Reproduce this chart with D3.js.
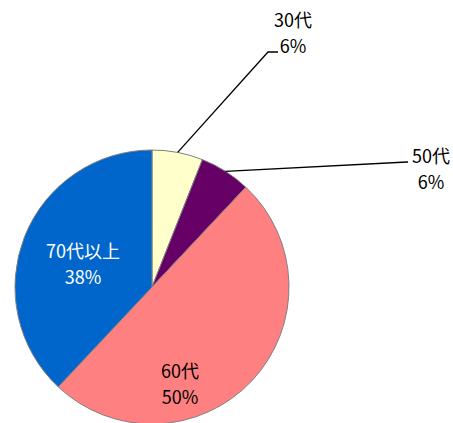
<!DOCTYPE html>
<html>
<head>
<meta charset="utf-8">
<script src="https://cdn.jsdelivr.net/npm/d3@7"></script>
<style>
  body { margin: 0; background: #fff; }
  text { font-family: "Noto Sans CJK JP", "Noto Sans", sans-serif; font-size: 18px; }
</style>
</head>
<body>
<svg id="chart"></svg>
<script>
// data
let categories = ["30代", "50代", "60代", "70代以上"];
let values = [6, 6, 50, 38];
let percentLabels = ["6%", "6%", "50%", "38%"];
let colors = ["#FFFFCC", "#660066", "#FF8080", "#0066CC"];

let width = 453,
    height = 423,
    cx = 152,
    cy = 287,
    radius = 137;

let svg = d3.select('#chart')
    .attr('width', width)
    .attr('height', height);

let g = svg.append('g')
    .attr('transform', 'translate(' + cx + ',' + cy + ')');

let pie = d3.pie()
    .sort(null)
    .value(function(d) { return d; });

let arc = d3.arc()
    .innerRadius(0)
    .outerRadius(radius);

let arcs = pie(values);

g.selectAll('path')
    .data(arcs)
    .enter()
    .append('path')
    .attr('d', arc)
    .style('fill', function(d, i) { return colors[i]; })
    .style('stroke', '#808080')
    .style('stroke-width', 1);

// label placement (layout, not data): inside labels get an offset from center,
// outside labels get an elbow + end point for the leader line
let layout = [
    { outside: true, elbow: [116, -235], end: [126, -235], text: [141, -260] },
    { outside: true, elbow: [255, -125], end: [256, -125], text: [279, -124] },
    { outside: false, text: [28, 91] },
    { outside: false, text: [-69, -29] }
];

function midPoint(d, r) {
    let a = (d.startAngle + d.endAngle) / 2;
    return [Math.sin(a) * r, -Math.cos(a) * r];
}

arcs.forEach(function(d, i) {
    let L = layout[i];
    if (L.outside) {
        let p0 = midPoint(d, radius);
        g.append('polyline')
            .attr('points', [p0, L.elbow, L.end].map(function(p) { return p.join(','); }).join(' '))
            .style('fill', 'none')
            .style('stroke', '#000')
            .style('stroke-width', 1.3);
    }
    let t = g.append('text')
        .attr('text-anchor', 'middle')
        .attr('x', L.text[0])
        .attr('y', L.text[1])
        .style('fill', i === 3 ? '#fff' : '#000');
    t.append('tspan')
        .attr('x', L.text[0])
        .text(categories[i]);
    t.append('tspan')
        .attr('x', L.text[0])
        .attr('dy', 26)
        .text(percentLabels[i]);
});
</script>
</body>
</html>
